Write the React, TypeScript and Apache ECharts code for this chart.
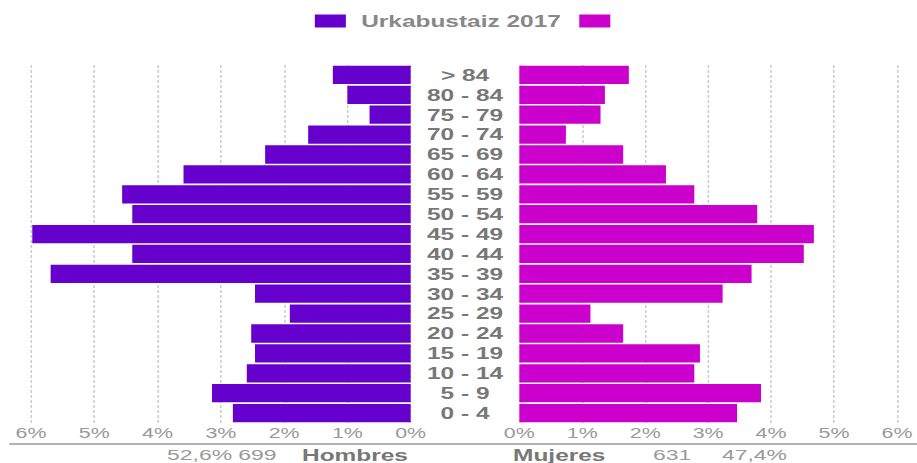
import React, { useEffect, useRef } from "react";
import * as echarts from "echarts";

// Age groups, bottom to top
const categories = [
  "0 - 4", "5 - 9", "10 - 14", "15 - 19", "20 - 24", "25 - 29", "30 - 34",
  "35 - 39", "40 - 44", "45 - 49", "50 - 54", "55 - 59", "60 - 64",
  "65 - 69", "70 - 74", "75 - 79", "80 - 84", "> 84",
];
// Percent of total population
const menPct = [2.81, 3.14, 2.59, 2.46, 2.52, 1.91, 2.46, 5.69, 4.40, 5.98, 4.40, 4.56, 3.59, 2.30, 1.62, 0.65, 1.00, 1.23];
const womenPct = [3.46, 3.84, 2.78, 2.87, 1.65, 1.13, 3.23, 3.69, 4.52, 4.68, 3.78, 2.78, 2.33, 1.65, 0.74, 1.29, 1.36, 1.74];
const legendNames = ["Urkabustaiz 2017", " "];
const menSummary = ["52,6% 699", "Hombres"];
const womenSummary = ["Mujeres", "631", "47,4%"];

const W = 600;
const H = 463;
const S = 917 / W;
const FONT = "'Liberation Sans', Arial, sans-serif";

export default function App() {
  const ref = useRef<HTMLDivElement>(null);
  useEffect(() => {
    if (!ref.current) return;
    const chart = echarts.init(ref.current, undefined, { renderer: "svg", width: W, height: H });
    const xAxisCommon = {
      type: "value" as const,
      min: 0,
      max: 6,
      interval: 1,
      axisLine: { show: false },
      axisTick: { show: false },
      axisLabel: { formatter: "{value}%", color: "#999", fontSize: 14, margin: 3, fontFamily: FONT },
      splitLine: { show: true, lineStyle: { type: [3, 2], color: "#ccc", width: 1 } },
    };
    chart.setOption({
      animation: false,
      textStyle: { fontFamily: FONT },
      legend: {
        left: 201,
        top: 8,
        icon: "rect",
        itemWidth: 20.3,
        itemHeight: 13,
        itemGap: 12,
        data: legendNames,
        textStyle: { fontSize: 16, fontWeight: "bold", color: "#888", fontFamily: FONT, padding: [0, 0, 0, 5] },
      },
      grid: [
        { left: 20.3, top: 65, width: 248.4, height: 358 },
        { left: 339.8, top: 65, width: 248.6, height: 358 },
      ],
      xAxis: [
        { ...xAxisCommon, gridIndex: 0, inverse: true },
        { ...xAxisCommon, gridIndex: 1 },
      ],
      yAxis: [
        {
          type: "category", gridIndex: 0, data: categories,
          axisLine: { show: false }, axisTick: { show: false }, axisLabel: { show: false },
        },
        {
          type: "category", gridIndex: 1, data: categories, position: "left",
          axisLine: { show: false }, axisTick: { show: false },
          axisLabel: { interval: 0, align: "center", margin: 35.5, fontSize: 16, fontWeight: "bold", color: "#777", fontFamily: FONT },
        },
      ],
      series: [
        {
          name: legendNames[0], type: "bar", xAxisIndex: 0, yAxisIndex: 0,
          data: menPct, barCategoryGap: "8%", itemStyle: { color: "#6600CC" },
        },
        {
          name: legendNames[1], type: "bar", xAxisIndex: 1, yAxisIndex: 1,
          data: womenPct, barCategoryGap: "8%", itemStyle: { color: "#CC00CC" },
        },
      ],
      graphic: [
        { type: "line", shape: { x1: 6.1, y1: 444, x2: 600, y2: 444 }, style: { stroke: "#999", lineWidth: 1.3 } },
        { type: "text", x: 109.3, y: 455, style: { text: menSummary[0], font: `15px ${FONT}`, fill: "#999", verticalAlign: "middle" } },
        { type: "text", x: 197.6, y: 455, style: { text: menSummary[1], font: `bold 16px ${FONT}`, fill: "#777", verticalAlign: "middle" } },
        { type: "text", x: 335.7, y: 455, style: { text: womenSummary[0], font: `bold 16px ${FONT}`, fill: "#777", verticalAlign: "middle" } },
        { type: "text", x: 427.3, y: 455, style: { text: womenSummary[1], font: `15px ${FONT}`, fill: "#999", verticalAlign: "middle" } },
        { type: "text", x: 472.4, y: 455, style: { text: womenSummary[2], font: `15px ${FONT}`, fill: "#999", verticalAlign: "middle" } },
      ],
    });
    return () => chart.dispose();
  }, []);
  return (
    <div
      ref={ref}
      style={{
        position: "absolute",
        left: 0,
        top: 0,
        width: W,
        height: H,
        transform: `scaleX(${S})`,
        transformOrigin: "0 0",
      }}
    />
  );
}
